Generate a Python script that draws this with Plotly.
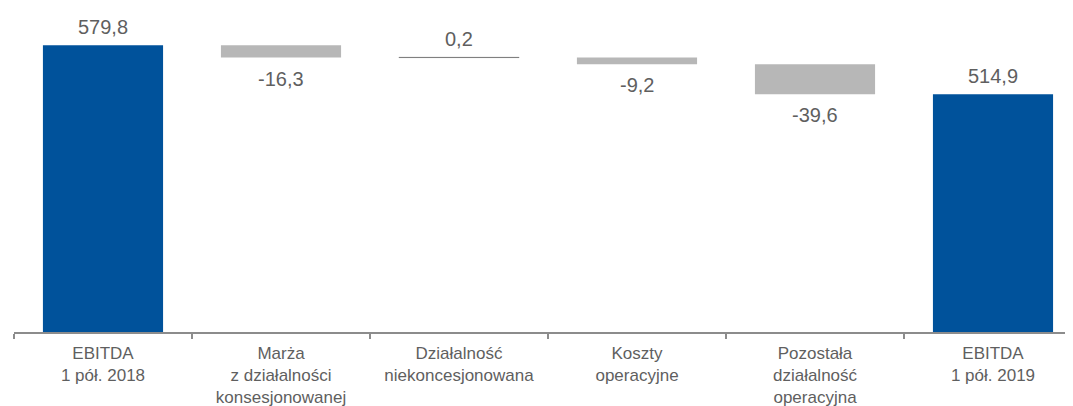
import plotly.graph_objects as go

categories = ["EBITDA<br>1 pół. 2018", "Marża<br>z działalności<br>konsesjonowanej",
              "Działalność<br>niekoncesjonowana", "Koszty<br>operacyjne",
              "Pozostała<br>działalność<br>operacyjna", "EBITDA<br>1 pół. 2019"]
values = [579.8, -16.3, 0.2, -9.2, -39.6, 514.9]
measures = ["absolute", "relative", "relative", "relative", "relative", "total"]
labels = ["579,8", "-16,3", "0,2", "-9,2", "-39,6", "514,9"]

BLUE = "#00529B"
GRAY = "#B7B7B7"
TXT = "#5F5F5F"
FONT = "Liberation Sans, Arial, sans-serif"

wf_values = [v if m != "total" else 0 for v, m in zip(values, measures)]

fig = go.Figure(go.Waterfall(
    x=categories, y=wf_values, measure=measures,
    width=0.675,
    increasing=dict(marker=dict(color=GRAY, line=dict(color="#7F7F7F", width=1))),
    decreasing=dict(marker=dict(color=GRAY, line=dict(width=0))),
    totals=dict(marker=dict(color=BLUE, line=dict(width=0))),
    connector=dict(visible=False),
    hoverinfo="skip",
))

# annotations from cumulative values
cum = 0
for i, (v, m, lab) in enumerate(zip(values, measures, labels)):
    if m == "absolute":
        start, end = 0, v
        cum = v
    elif m == "total":
        start, end = 0, cum
    else:
        start, end = cum, cum + v
        cum = cum + v
    if end >= start:
        fig.add_annotation(x=categories[i], y=max(start, end), text=lab, showarrow=False,
                           yanchor="bottom", yshift=5, font=dict(size=20, color=TXT, family=FONT))
    else:
        fig.add_annotation(x=categories[i], y=min(start, end), text=lab, showarrow=False,
                           yanchor="top", yshift=-8, font=dict(size=20, color=TXT, family=FONT))

fig.update_layout(
    width=1065, height=398,
    margin=dict(l=6, r=0, t=0, b=74),
    plot_bgcolor="white", paper_bgcolor="white",
    showlegend=False,
    font=dict(family=FONT, color=TXT, size=17),
    xaxis=dict(range=[-0.5, -0.5 + 1059 / 178], showline=True, linecolor="#8C8C8C", linewidth=1.5,
               ticks="outside", tickson="boundaries", ticklen=5, tickcolor="#8C8C8C", tickwidth=1.5,
               ticklabelstandoff=5,
               showgrid=False, tickfont=dict(size=17, color=TXT, family=FONT)),
    yaxis=dict(range=[200, 200 + 324 / 0.755], visible=False, showgrid=False, zeroline=False),
)

fig.write_html("out.html")
